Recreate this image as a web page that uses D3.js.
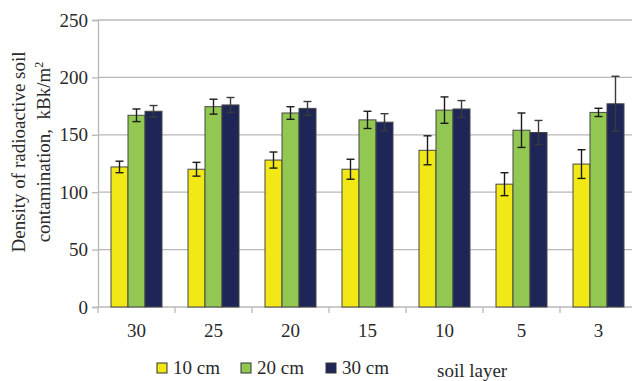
<!DOCTYPE html>
<html>
<head>
<meta charset="utf-8">
<script src="https://cdn.jsdelivr.net/npm/d3@7/dist/d3.min.js"></script>
<style>
  html, body { margin: 0; padding: 0; background: #fff; }
  svg { display: block; }
  text { font-family: "Liberation Serif", "Times New Roman", serif; fill: #2a2a2a; }
</style>
</head>
<body>
<svg id="chart" width="632" height="381"></svg>
<script>
// ---- data ----
const categories = ["30", "25", "20", "15", "10", "5", "3"];
const seriesNames = ["10 cm", "20 cm", "30 cm"];
const values10 = [122, 120, 128, 120, 136.5, 107, 124.5];
const values20 = [167, 174.5, 169, 163, 171.5, 154, 169.5];
const values30 = [170.5, 176, 173, 161, 172.5, 152, 177];
const errors10 = [5, 6, 7, 8.7, 12.6, 10, 12.5];
const errors20 = [5.5, 6.5, 5.5, 7.5, 11.5, 15, 3.6];
const errors30 = [5, 6.5, 6, 7.4, 7.3, 10.5, 24];
const yTicks = [0, 50, 100, 150, 200, 250];
const yTitle = ["Density of radioactive soil", "contamination,\u00a0 kBk/m"];
const xTitle = "soil layer";

const colors = ["#f2e816", "#92c852", "#1e2658"];
const valuesBySeries = [values10, values20, values30];
const errorsBySeries = [errors10, errors20, errors30];

(function () {
const svg = d3.select("#chart");
const pLeft = 98, pRight = 637, pTop = 20, pBottom = 307;

const x = d3.scaleBand().domain(categories).range([pLeft, pRight]).paddingInner(0).paddingOuter(0);
const x1 = d3.scaleBand().domain(seriesNames).range([13, x.bandwidth() - 13]);
const y = d3.scaleLinear().domain([0, 250]).range([pBottom, pTop]);

// gridlines
svg.append("g").selectAll("line").data(yTicks.filter(d => d > 0)).join("line")
  .attr("x1", pLeft).attr("x2", 632)
  .attr("y1", d => y(d)).attr("y2", d => y(d))
  .attr("stroke", "#b8b8b8").attr("stroke-width", 1.3);

// y axis
const yAxis = svg.append("g").attr("transform", `translate(${pLeft},0)`)
  .call(d3.axisLeft(y).tickValues(yTicks).tickSize(6).tickPadding(4));
yAxis.attr("font-family", null);
yAxis.select(".domain").attr("stroke", "#b8b8b8").attr("stroke-width", 1.3);
yAxis.selectAll(".tick line").attr("stroke", "#b8b8b8").attr("stroke-width", 1.3);
yAxis.selectAll(".tick text").attr("font-size", 19).attr("fill", "#2a2a2a");

// x axis baseline
svg.append("line").attr("x1", pLeft).attr("x2", 632).attr("y1", pBottom).attr("y2", pBottom)
  .attr("stroke", "#b8b8b8").attr("stroke-width", 1.3);
// x boundary ticks
const boundaries = categories.map(c => x(c)).concat([x(categories[categories.length - 1]) + x.bandwidth()]);
svg.append("g").selectAll("line").data(boundaries.filter(b => b <= 632)).join("line")
  .attr("x1", d => d).attr("x2", d => d).attr("y1", pBottom).attr("y2", pBottom + 6)
  .attr("stroke", "#b8b8b8").attr("stroke-width", 1.3);
// x labels
svg.append("g").selectAll("text").data(categories).join("text")
  .attr("x", d => x(d) + x.bandwidth() / 2).attr("y", 337)
  .attr("text-anchor", "middle").attr("font-size", 19).text(d => d);

// bars
const groups = svg.append("g").selectAll("g").data(categories).join("g")
  .attr("transform", d => `translate(${x(d)},0)`);
seriesNames.forEach((s, si) => {
  groups.append("rect")
    .attr("x", x1(s)).attr("width", x1.bandwidth())
    .attr("y", (d, i) => y(valuesBySeries[si][i]))
    .attr("height", (d, i) => y(0) - y(valuesBySeries[si][i]))
    .attr("fill", colors[si]).attr("stroke", "#474747").attr("stroke-width", 1);
});
// error bars
seriesNames.forEach((s, si) => {
  const cx = x1(s) + x1.bandwidth() / 2;
  const hi = (i) => y(valuesBySeries[si][i] + errorsBySeries[si][i]);
  const lo = (i) => y(valuesBySeries[si][i] - errorsBySeries[si][i]);
  const col = si === 2 ? "#3a3a3a" : "#1a1a1a";
  groups.append("line").attr("x1", cx).attr("x2", cx)
    .attr("y1", (d, i) => hi(i)).attr("y2", (d, i) => lo(i))
    .attr("stroke", col).attr("stroke-width", 1.4);
  groups.append("line").attr("x1", cx - 4).attr("x2", cx + 4)
    .attr("y1", (d, i) => hi(i)).attr("y2", (d, i) => hi(i))
    .attr("stroke", col).attr("stroke-width", 1.4);
  groups.append("line").attr("x1", cx - 4).attr("x2", cx + 4)
    .attr("y1", (d, i) => lo(i)).attr("y2", (d, i) => lo(i))
    .attr("stroke", col).attr("stroke-width", 1.4);
});

// y title
const yt = svg.append("text").attr("transform", "translate(25,152) rotate(-90)")
  .attr("text-anchor", "middle").attr("font-size", 19);
yt.append("tspan").text(yTitle[0]);
const yt2 = svg.append("text").attr("transform", "translate(50,152) rotate(-90)")
  .attr("text-anchor", "middle").attr("font-size", 19);
yt2.append("tspan").text(yTitle[1]);
yt2.append("tspan").attr("dy", -7).attr("font-size", 12).text("2");

// legend
const legendX = [157, 241, 326];
seriesNames.forEach((s, si) => {
  svg.append("rect").attr("x", legendX[si]).attr("y", 363).attr("width", 10).attr("height", 10)
    .attr("fill", colors[si]).attr("stroke", "#333").attr("stroke-width", 1);
  svg.append("text").attr("x", legendX[si] + 16).attr("y", 374).attr("font-size", 19).text(s);
});
svg.append("text").attr("x", 437).attr("y", 377).attr("font-size", 19).text(xTitle);
})();
</script>
</body>
</html>
